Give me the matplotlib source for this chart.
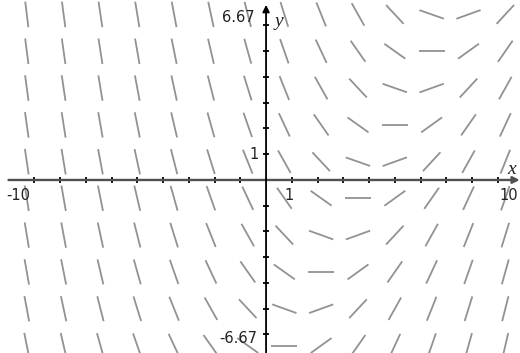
import numpy as np
import matplotlib
matplotlib.use("Agg")
import matplotlib.pyplot as plt
from matplotlib.collections import LineCollection

# slope field sample points (columns, rows) and the slope at each one
grid_x = [-9.29, -7.86, -6.43, -5.0, -3.57, -2.14, -0.71,
          0.71, 2.14, 3.57, 5.0, 6.43, 7.86, 9.29]
grid_y = [6.43, 5.0, 3.57, 2.14, 0.71, -0.71, -2.14, -3.57, -5.0, -6.43]
slopes = [
    [-8.21, -7.50, -6.78, -6.07, -5.35, -4.64, -3.92, -3.21, -2.50, -1.78, -1.07, -0.35, 0.36, 1.08],
    [-7.86, -7.14, -6.43, -5.71, -5.00, -4.28, -3.57, -2.86, -2.14, -1.43, -0.71, 0.00, 0.72, 1.44],
    [-7.50, -6.78, -6.07, -5.35, -4.64, -3.92, -3.21, -2.50, -1.78, -1.07, -0.35, 0.36, 1.08, 1.79],
    [-7.14, -6.43, -5.71, -5.00, -4.28, -3.57, -2.85, -2.14, -1.43, -0.71, 0.00, 0.72, 1.43, 2.15],
    [-6.78, -6.07, -5.35, -4.64, -3.92, -3.21, -2.49, -1.78, -1.07, -0.35, 0.36, 1.08, 1.79, 2.51],
    [-6.43, -5.71, -5.00, -4.28, -3.57, -2.85, -2.14, -1.43, -0.71, 0.00, 0.72, 1.43, 2.15, 2.86],
    [-6.07, -5.36, -4.64, -3.93, -3.21, -2.50, -1.78, -1.07, -0.36, 0.36, 1.08, 1.79, 2.51, 3.22],
    [-5.71, -5.00, -4.28, -3.57, -2.85, -2.14, -1.42, -0.71, 0.00, 0.72, 1.43, 2.15, 2.86, 3.58],
    [-5.36, -4.64, -3.93, -3.21, -2.50, -1.78, -1.07, -0.36, 0.36, 1.07, 1.79, 2.51, 3.22, 3.94],
    [-5.00, -4.28, -3.57, -2.85, -2.14, -1.42, -0.71, 0.00, 0.72, 1.43, 2.15, 2.86, 3.58, 4.29],
]
x_window = (-10, 10)
y_window = (-6.67, 6.67)

fig = plt.figure(figsize=(5.2, 3.53), dpi=100)
ax = fig.add_axes([0, 0, 1, 1])
ax.set_xlim(-10.33, 9.86)
ax.set_ylim(-6.72, 6.99)
ax.set_aspect("equal", adjustable="datalim")
ax.axis("off")

# short line segments of equal length along each slope
half = 0.5
segs = []
for j, yc in enumerate(grid_y):
    for i, xc in enumerate(grid_x):
        s = slopes[j][i]
        n = np.hypot(1.0, s)
        dx, dy = half / n, half * s / n
        segs.append([(xc - dx, yc - dy), (xc + dx, yc + dy)])
ax.add_collection(LineCollection(segs, colors="#929292", linewidths=1.3))

# axes with arrow heads
ax.annotate("", xy=(9.85, 0), xytext=(x_window[0], 0),
            arrowprops=dict(arrowstyle="-|>", color="#505050", lw=1.7,
                            mutation_scale=10, shrinkA=0, shrinkB=0))
ax.annotate("", xy=(0, 6.8), xytext=(0, -6.9),
            arrowprops=dict(arrowstyle="-|>", color="black", lw=1.3,
                            mutation_scale=10, shrinkA=0, shrinkB=0))

# tick marks at each unit
tk = 0.1
for v in range(-9, 10):
    if v != 0:
        ax.plot([v, v], [-tk, tk], color="black", lw=1.3, solid_capstyle="butt")
for v in range(-6, 7):
    if v != 0:
        ax.plot([-tk, tk], [v, v], color="black", lw=1.3, solid_capstyle="butt")

lbl = dict(fontsize=10.5, color="#222222", family="DejaVu Sans")
ax.text(-10.1, -0.3, "-10", ha="left", va="top", **lbl)
ax.text(9.78, -0.3, "10", ha="right", va="top", **lbl)
ax.text(0.9, -0.3, "1", ha="center", va="top", **lbl)
ax.text(-0.3, 1.0, "1", ha="right", va="center", **lbl)
ax.text(-0.45, 6.3, "6.67", ha="right", va="center", **lbl)
ax.text(-0.35, -6.15, "-6.67", ha="right", va="center", **lbl)
ax.text(0.5, 6.15, "y", ha="center", va="center", fontsize=14,
        style="italic", family="Liberation Serif", color="#222222")
ax.text(9.55, 0.4, "x", ha="center", va="center", fontsize=14,
        style="italic", family="Liberation Serif", color="#222222")

fig.savefig("out.png", dpi=100)
